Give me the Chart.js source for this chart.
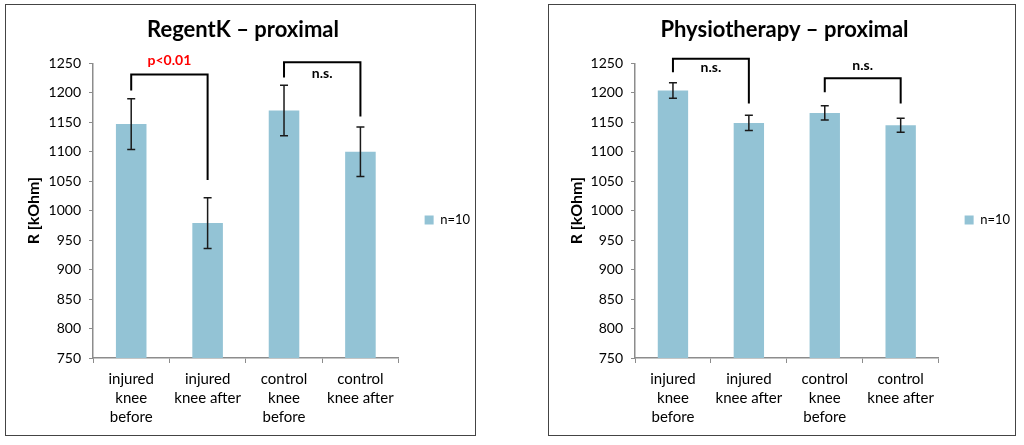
<!DOCTYPE html>
<html>
<head>
<meta charset="utf-8">
<script src="https://cdn.jsdelivr.net/npm/chart.js@4.4.1/dist/chart.umd.min.js"></script>
<style>
  html, body { margin: 0; padding: 0; background: #fff; }
  body { width: 1024px; height: 445px; position: relative; overflow: hidden; }
  .panel { position: absolute; top: 4px; height: 432px; border: 1px solid #444; box-sizing: border-box; background: #fff; }
  #leftPanel { left: 5px; width: 471px; }
  #rightPanel { left: 548px; width: 468px; }
</style>
</head>
<body>
<div class="panel" id="leftPanel"><canvas id="regentChart"></canvas></div>
<div class="panel" id="rightPanel"><canvas id="physioChart"></canvas></div>

<script>
// data
const categories = [
    ["injured", "knee", "before"],
    ["injured", "knee after"],
    ["control", "knee", "before"],
    ["control", "knee after"]
];
const seriesName = "n=10";

const regentMeans = [1147, 979, 1170, 1100];
const regentErrors = [43, 43, 43, 42];

const physioMeans = [1204, 1149, 1166, 1145];
const physioErrors = [13, 13, 12, 12];

const yTicksMin = 750;
const yTicksMax = 1250;
const yTicksStep = 50;

// significance brackets: categories joined, bracket level, end levels, label and label level
const regentBrackets = [
    { from: 0, to: 1, level: 1231, fromEnd: 1204, toEnd: 1052, label: "p<0.01", labelLevel: 1255, significant: true },
    { from: 2, to: 3, level: 1252, fromEnd: 1226, toEnd: 1160, label: "n.s.", labelLevel: 1233, significant: false }
];
const physioBrackets = [
    { from: 0, to: 1, level: 1258, fromEnd: 1235, toEnd: 1182, label: "n.s.", labelLevel: 1243, significant: false },
    { from: 2, to: 3, level: 1225, fromEnd: 1201, toEnd: 1182, label: "n.s.", labelLevel: 1247, significant: false }
];

const barColor = "#93C3D5";
const axisColor = "#8c8c8c";
const fontFamily = "Lato, 'Open Sans', sans-serif";

// draws error bars and the brackets on top of the bars
const annotatePlugin = {
    id: 'annotate',
    afterDatasetsDraw(chart, args, opts) {
        const ctx = chart.ctx;
        const xScale = chart.scales.x;
        const yScale = chart.scales.y;
        const errors = opts.errors || [];
        const means = chart.data.datasets[0].data;

        ctx.save();
        // error bars
        ctx.strokeStyle = "#1a1a1a";
        ctx.lineWidth = 1.5;
        means.forEach((m, i) => {
            const x = xScale.getPixelForValue(i);
            const yTop = yScale.getPixelForValue(m + errors[i]);
            const yBot = yScale.getPixelForValue(m - errors[i]);
            ctx.beginPath();
            ctx.moveTo(x, yTop); ctx.lineTo(x, yBot);
            ctx.moveTo(x - 4, yTop); ctx.lineTo(x + 4, yTop);
            ctx.moveTo(x - 4, yBot); ctx.lineTo(x + 4, yBot);
            ctx.stroke();
        });

        // brackets
        (opts.brackets || []).forEach(b => {
            const x1 = xScale.getPixelForValue(b.from);
            const x2 = xScale.getPixelForValue(b.to);
            const yl = yScale.getPixelForValue(b.level);
            ctx.strokeStyle = "#000";
            ctx.lineWidth = 2;
            ctx.beginPath();
            ctx.moveTo(x1, yScale.getPixelForValue(b.fromEnd));
            ctx.lineTo(x1, yl);
            ctx.lineTo(x2, yl);
            ctx.lineTo(x2, yScale.getPixelForValue(b.toEnd));
            ctx.stroke();

            ctx.fillStyle = b.significant ? "#ff0000" : "#000";
            ctx.font = "bold 14px " + fontFamily;
            ctx.textAlign = "center";
            ctx.textBaseline = "middle";
            ctx.fillText(b.label, (x1 + x2) / 2, yScale.getPixelForValue(b.labelLevel));
        });
        ctx.restore();
    }
};

function makeChart(canvasId, titleText, means, errors, brackets, yWidth, rightPad) {
    const ctx = document.getElementById(canvasId).getContext('2d');
    return new Chart(ctx, {
        type: 'bar',
        data: {
            labels: categories,
            datasets: [{
                label: seriesName,
                data: means,
                backgroundColor: barColor,
                borderWidth: 0,
                barPercentage: 0.4,
                categoryPercentage: 1.0
            }]
        },
        options: {
            responsive: true,
            maintainAspectRatio: false,
            animation: false,
            layout: { padding: { left: 0, right: rightPad, top: 0, bottom: 0 } },
            scales: {
                x: {
                    grid: { display: true, drawOnChartArea: false, drawTicks: true, tickLength: 5, color: axisColor, offset: true },
                    border: { color: axisColor, width: 1.5 },
                    ticks: {
                        color: "#000",
                        padding: 7,
                        maxRotation: 0,
                        autoSkip: false,
                        font: { family: fontFamily, size: 15, lineHeight: 1.27 }
                    },
                    afterFit: function(scale) { scale.height = 77; }
                },
                y: {
                    min: yTicksMin,
                    max: yTicksMax,
                    grid: { display: true, drawOnChartArea: false, drawTicks: true, tickLength: 4, color: axisColor },
                    border: { color: axisColor, width: 1.5 },
                    ticks: {
                        stepSize: yTicksStep,
                        color: "#000",
                        padding: 8,
                        font: { family: fontFamily, size: 14 },
                        callback: function(value) { return String(value); }
                    },
                    title: {
                        display: true,
                        text: "R [kOhm]",
                        color: "#000",
                        padding: { top: 18, bottom: 0 },
                        font: { family: fontFamily, size: 16, weight: 'bold' }
                    },
                    afterFit: function(scale) { scale.width = yWidth; }
                }
            },
            plugins: {
                title: {
                    display: true,
                    text: titleText,
                    color: "#000",
                    padding: { top: 12, bottom: 20 },
                    font: { family: fontFamily, size: 22, weight: 'bold' }
                },
                legend: {
                    display: true,
                    position: 'right',
                    labels: {
                        boxWidth: 9,
                        boxHeight: 9,
                        padding: 26,
                        color: "#000",
                        font: { family: fontFamily, size: 13 }
                    }
                },
                tooltip: { enabled: false },
                annotate: { errors: errors, brackets: brackets }
            }
        },
        plugins: [annotatePlugin]
    });
}

makeChart('regentChart', "RegentK \u2013 proximal", regentMeans, regentErrors, regentBrackets, 87, -5);
makeChart('physioChart', "Physiotherapy \u2013 proximal", physioMeans, physioErrors, physioBrackets, 86, -5);
</script>
</body>
</html>
